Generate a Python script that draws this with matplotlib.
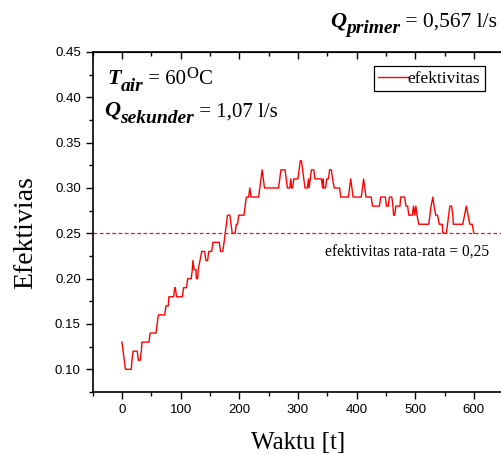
import matplotlib
matplotlib.use('Agg')
import matplotlib.pyplot as plt
from matplotlib.ticker import MultipleLocator, FormatStrFormatter

# efektivitas readings (time in s, value)
waktu = [0, 2, 4, 6, 16, 17, 19, 26, 28, 31, 33, 34, 46, 48, 58, 60, 62, 73, 75, 79,
         80, 88, 90, 91, 93, 103, 105, 110, 112, 118, 120, 121, 123, 126, 127, 129, 130, 133, 136, 141,
         143, 146, 148, 153, 155, 166, 168, 172, 174, 176, 178, 180, 184, 186, 188, 193, 195, 197, 199, 208,
         210, 212, 216, 218, 220, 233, 235, 237, 239, 241, 243, 267, 269, 271, 278, 280, 282, 286, 288, 289,
         291, 293, 300, 302, 304, 306, 308, 310, 312, 316, 318, 319, 321, 323, 327, 329, 340, 342, 343, 344,
         347, 349, 352, 354, 357, 359, 362, 371, 373, 386, 388, 390, 392, 394, 408, 410, 412, 414, 416, 425,
         427, 439, 441, 449, 451, 454, 456, 460, 462, 463, 465, 467, 474, 475, 482, 484, 487, 489, 495, 497,
         499, 501, 503, 506, 523, 525, 527, 530, 532, 535, 538, 541, 546, 547, 553, 555, 557, 559, 562, 564,
         565, 581, 584, 587, 590, 593, 597, 600]
efektivitas = [0.13, 0.12, 0.11, 0.10, 0.10, 0.11, 0.12, 0.12, 0.11, 0.11, 0.12, 0.13, 0.13, 0.14, 0.14, 0.15, 0.16, 0.16, 0.17, 0.17,
               0.18, 0.18, 0.19, 0.19, 0.18, 0.18, 0.19, 0.19, 0.20, 0.20, 0.21, 0.22, 0.21, 0.21, 0.20, 0.20, 0.21, 0.22, 0.23, 0.23,
               0.22, 0.22, 0.23, 0.23, 0.24, 0.24, 0.23, 0.23, 0.24, 0.25, 0.26, 0.27, 0.27, 0.26, 0.25, 0.25, 0.26, 0.26, 0.27, 0.27,
               0.28, 0.29, 0.29, 0.30, 0.29, 0.29, 0.30, 0.31, 0.32, 0.31, 0.30, 0.30, 0.31, 0.32, 0.32, 0.31, 0.30, 0.30, 0.31, 0.30,
               0.30, 0.31, 0.31, 0.32, 0.33, 0.33, 0.32, 0.31, 0.30, 0.30, 0.31, 0.30, 0.31, 0.32, 0.32, 0.31, 0.31, 0.30, 0.31, 0.30,
               0.30, 0.31, 0.31, 0.32, 0.32, 0.31, 0.30, 0.30, 0.29, 0.29, 0.30, 0.31, 0.30, 0.29, 0.29, 0.30, 0.31, 0.30, 0.29, 0.29,
               0.28, 0.28, 0.29, 0.29, 0.28, 0.28, 0.29, 0.29, 0.28, 0.27, 0.27, 0.28, 0.28, 0.29, 0.29, 0.28, 0.28, 0.27, 0.27, 0.28,
               0.27, 0.28, 0.27, 0.26, 0.26, 0.27, 0.28, 0.29, 0.28, 0.27, 0.27, 0.26, 0.26, 0.25, 0.25, 0.26, 0.27, 0.28, 0.28, 0.27,
               0.26, 0.26, 0.27, 0.28, 0.27, 0.26, 0.26, 0.25]
rata_rata = 0.25

serif = 'Liberation Serif'

fig = plt.figure(figsize=(5.02, 4.55), dpi=100)
ax = fig.add_axes([0.1845, 0.1385, 0.818, 0.7473])

ax.plot(waktu, efektivitas, color='red', lw=1.0, label='efektivitas')
ax.axhline(rata_rata, color='#d62020', lw=0.9, ls=(0, (3, 2)))

ax.set_xlim(-50, 650)
ax.set_ylim(0.075, 0.45)
ax.xaxis.set_major_locator(MultipleLocator(100))
ax.xaxis.set_minor_locator(MultipleLocator(50))
ax.yaxis.set_major_locator(MultipleLocator(0.05))
ax.yaxis.set_minor_locator(MultipleLocator(0.025))
ax.yaxis.set_major_formatter(FormatStrFormatter('%.2f'))

ax.tick_params(axis='both', which='both', labelsize=9.5, width=1.0, direction='out')
ax.tick_params(axis='both', which='major', length=5)
ax.tick_params(axis='both', which='minor', length=3)
for lbl in ax.get_xticklabels() + ax.get_yticklabels():
    lbl.set_family('Liberation Sans')
for sp in ax.spines.values():
    sp.set_linewidth(1.2)

# top ticks point inward
sec = ax.secondary_xaxis('top')
sec.xaxis.set_major_locator(MultipleLocator(100))
sec.xaxis.set_minor_locator(MultipleLocator(50))
sec.tick_params(which='both', direction='in', labeltop=False, width=1.0)
sec.tick_params(which='major', length=5)
sec.tick_params(which='minor', length=3)

ax.set_xlabel('Waktu [t]', family=serif, fontsize=18, labelpad=12)
ax.set_ylabel('Efektivias', family=serif, fontsize=20)
ax.yaxis.set_label_coords(-0.133, 0.47)

leg = ax.legend(loc='upper right', bbox_to_anchor=(0.955, 0.958), prop={'family': serif, 'size': 12.5},
                handlelength=1.7, handletextpad=0.0, borderpad=0.25, fancybox=False,
                framealpha=1, edgecolor='black', borderaxespad=0)
leg.get_frame().set_linewidth(0.9)


def chain(prev, s, dy=0, dx=0, **kw):
    # put a piece of text right after the previous one
    return ax.annotate(s, xy=(1, 0), xycoords=prev, xytext=(dx, dy), textcoords='offset points',
                       va='bottom', ha='left', family=serif, **kw)


bi = dict(fontweight='bold', fontstyle='italic')

# T_air = 60 OC
t1 = ax.text(0.035, 0.907, 'T', transform=ax.transAxes, family=serif, fontsize=16, va='baseline', **bi)
t2 = chain(t1, 'air', dy=-4.5, fontsize=14, **bi)
t3 = chain(t2, ' = 60', dy=4, fontsize=15)
t4 = chain(t3, 'O', dy=5, fontsize=12)
chain(t4, 'C', dy=-5, fontsize=15)

# Q_sekunder = 1,07 l/s
q1 = ax.text(0.028, 0.813, 'Q', transform=ax.transAxes, family=serif, fontsize=16, va='baseline', **bi)
q2 = chain(q1, 'sekunder', dy=-4.5, fontsize=14, **bi)
chain(q2, ' = 1,07 l/s', dy=4, fontsize=15)

# Q_primer = 0,567 l/s
p1 = ax.text(0.578, 1.076, 'Q', transform=ax.transAxes, family=serif, fontsize=16, va='baseline', **bi)
p2 = chain(p1, 'primer', dy=-4.5, fontsize=14, **bi)
chain(p2, ' = 0,567 l/s', dy=4, fontsize=15.5)

ax.text(486, 0.2256, 'efektivitas rata-rata = 0,25', family=serif, fontsize=11.2,
        ha='center', va='baseline')

fig.savefig('out.png', dpi=100)
